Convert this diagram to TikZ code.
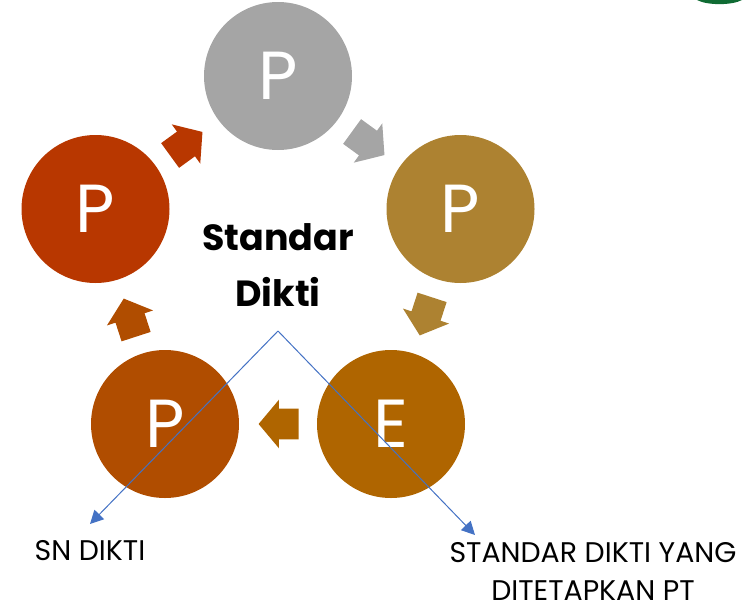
\documentclass[tikz,border=0pt]{standalone}
\usepackage{fontspec}
\setmainfont{Poppins}
\usepackage{tikz}
\usetikzlibrary{shapes, arrows, arrows.meta}
\definecolor{stepgray}{HTML}{A5A5A5}
\definecolor{stepgold}{HTML}{AD8231}
\definecolor{stepochre}{HTML}{AF6500}
\definecolor{stepbrown}{HTML}{B04D00}
\definecolor{stepred}{HTML}{B83700}
\definecolor{linkblue}{HTML}{4472C4}
\definecolor{cornergreen}{HTML}{0F6B33}
\tikzset{
    stepcircle/.style={circle,minimum size=111pt,inner sep=0pt,text=white,font=\fontsize{51}{51}\selectfont},
    steparrow/.style={single arrow,draw=none,minimum height=30pt,text height=22.5pt,text depth=0pt,inner sep=0pt,
        single arrow head extend=6.75pt,single arrow tip angle=100},
    linktext/.style={font=\fontsize{21.3}{28}\selectfont,align=center,inner sep=0pt},
    linkline/.style={draw=linkblue,line width=0.75pt,-{Triangle[length=10pt,width=10pt]}},
}
\begin{document}
\begin{tikzpicture}[x=0.75pt,y=-0.75pt]
    \useasboundingbox (0,0) rectangle (746,607);
    \fill[cornergreen] (697,0) .. controls (707,5.5) and (732,5.5) .. (742,0) -- cycle;
    \node(plan) [stepcircle,fill=stepgray] at (278,76) {P};
    \node(pelaksanaan) [stepcircle,fill=stepgold] at (460.5,209) {P};
    \node(evaluasi) [stepcircle,fill=stepochre] at (391,424) {E};
    \node(pengendalian) [stepcircle,fill=stepbrown] at (165,424) {P};
    \node(peningkatan) [stepcircle,fill=stepred] at (95.5,209) {P};
    \node(arrow1) [steparrow,fill=stepgray,rotate=-36] at (363.1,139.5) {};
    \node(arrow2) [steparrow,fill=stepgold,rotate=-108] at (427.9,310.3) {};
    \node(arrow3) [steparrow,fill=stepochre,rotate=180] at (285,424) {};
    \node(arrow4) [steparrow,fill=stepbrown,rotate=108] at (131.9,323.7) {};
    \node(arrow5) [steparrow,fill=stepred,rotate=36] at (181.1,147.5) {};
    \node(center) [font=\fontsize{27.3}{42}\selectfont\bfseries,align=center,inner sep=0pt] at (278,265) {Standar\\Dikti};
    \coordinate(apex) at (278,331);
    \coordinate(leftend) at (90,524);
    \coordinate(rightend) at (475,535);
    \draw[linkline] (apex) -- (leftend);
    \draw[linkline] (apex) -- (rightend);
    \node(sndikti) [linktext] at (90,551) {SN DIKTI};
    \node(standarpt) [linktext] at (593,571.5) {STANDAR DIKTI YANG\\DITETAPKAN PT};
\end{tikzpicture}
\end{document}
